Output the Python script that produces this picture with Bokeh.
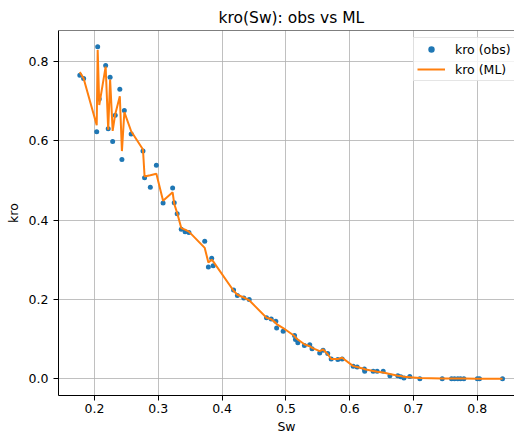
from bokeh.plotting import figure
from bokeh.models import Range1d, FixedTicker, Span
from bokeh.embed import file_html
from bokeh.resources import INLINE

sw = [0.177, 0.183, 0.2035, 0.2050, 0.2075, 0.2175, 0.2215, 0.2245, 0.2285, 0.2325,
      0.2397, 0.2430, 0.2468, 0.2575, 0.2760, 0.2785, 0.2875, 0.2970, 0.3075, 0.3225,
      0.3250, 0.3296, 0.3360, 0.3420, 0.3480, 0.3728, 0.3785, 0.3837, 0.3860, 0.4180,
      0.4240, 0.4340, 0.4425, 0.4696, 0.4770, 0.4842, 0.4855, 0.4957, 0.5135, 0.5150,
      0.5187, 0.5290, 0.5374, 0.5410, 0.5530, 0.5583, 0.5656, 0.5710, 0.5814, 0.5882,
      0.6055, 0.6117, 0.6230, 0.6235, 0.6368, 0.6430, 0.6525, 0.6630, 0.6754, 0.6800,
      0.6850, 0.6942, 0.7100, 0.7450, 0.7596, 0.7643, 0.7695, 0.7737, 0.7790, 0.8000,
      0.8034, 0.8395]

kro_obs = [0.765, 0.757, 0.623, 0.837, 0.705, 0.790, 0.630, 0.760, 0.598, 0.664,
           0.730, 0.553, 0.676, 0.617, 0.574, 0.507, 0.483, 0.538, 0.443, 0.481,
           0.444, 0.416, 0.377, 0.371, 0.369, 0.347, 0.282, 0.304, 0.285, 0.224,
           0.210, 0.204, 0.200, 0.154, 0.151, 0.145, 0.128, 0.120, 0.109, 0.099,
           0.091, 0.084, 0.086, 0.076, 0.065, 0.072, 0.064, 0.050, 0.049, 0.050,
           0.032, 0.030, 0.025, 0.019, 0.019, 0.019, 0.019, 0.008, 0.008, 0.005,
           0.002, 0.006, 0.000, 0.000, 0.000, 0.000, 0.000, 0.000, 0.000, 0.000,
           0.000, 0.000]

kro_ml = [0.773, 0.757, 0.639, 0.829, 0.690, 0.787, 0.628, 0.754, 0.625, 0.667,
          0.712, 0.574, 0.672, 0.624, 0.578, 0.510, 0.513, 0.517, 0.449, 0.470,
          0.441, 0.418, 0.380, 0.376, 0.371, 0.330, 0.293, 0.300, 0.296, 0.222,
          0.212, 0.205, 0.198, 0.154, 0.150, 0.141, 0.138, 0.128, 0.108, 0.104,
          0.099, 0.087, 0.082, 0.078, 0.070, 0.074, 0.062, 0.050, 0.050, 0.053,
          0.032, 0.030, 0.025, 0.024, 0.020, 0.018, 0.016, 0.012, 0.008, 0.007,
          0.005, 0.004, 0.002, 0.001, 0.001, 0.001, 0.001, 0.001, 0.001, 0.000,
          0.000, 0.000]

x_ticks = [0.2, 0.3, 0.4, 0.5, 0.6, 0.7, 0.8]
x_tick_labels = ["0.2", "0.3", "0.4", "0.5", "0.6", "0.7", "0.8"]
y_ticks = [0.0, 0.2, 0.4, 0.6, 0.8]
y_tick_labels = ["0.0", "0.2", "0.4", "0.6", "0.8"]

title_text = "kro(Sw): obs vs ML"
x_label = "Sw"
y_label = "kro"

FONT = "DejaVu Sans"
X0, X1 = 0.1436, 0.8583
Y0, Y1 = -0.042, 0.8779

p = figure(width=514, height=436, output_backend="svg", toolbar_location=None,
           x_range=Range1d(X0, X1), y_range=Range1d(Y0, Y1),
           min_border_left=58, min_border_right=0, min_border_top=30,
           min_border_bottom=40, title=title_text,
           x_axis_label=x_label, y_axis_label=y_label)

p.outline_line_color = None
p.background_fill_color = "white"
p.border_fill_color = "white"

p.title.text_font = FONT
p.title.text_font_size = "15.5px"
p.title.text_font_style = "normal"
p.title.text_color = "black"
p.title.align = "left"
p.title.offset = 160
p.title.vertical_align = "bottom"
p.title.standoff = 8

for ax in (p.xaxis[0], p.yaxis[0]):
    ax.axis_line_color = "black"
    ax.axis_line_width = 1
    ax.major_tick_line_color = "black"
    ax.major_tick_line_width = 1
    ax.major_tick_out = 5
    ax.major_tick_in = 0
    ax.minor_tick_out = 0
    ax.minor_tick_in = 0
    ax.major_label_text_font = FONT
    ax.major_label_text_font_size = "12.5px"
    ax.major_label_text_color = "black"
    ax.axis_label_text_font = FONT
    ax.axis_label_text_font_size = "12.5px"
    ax.axis_label_text_font_style = "normal"
    ax.axis_label_text_color = "black"

p.xaxis[0].ticker = FixedTicker(ticks=x_ticks)
p.xaxis[0].major_label_overrides = dict(zip(x_ticks, x_tick_labels))
p.yaxis[0].ticker = FixedTicker(ticks=y_ticks)
p.yaxis[0].major_label_overrides = dict(zip(y_ticks, y_tick_labels))
p.xaxis[0].major_label_standoff = 3
p.xaxis[0].axis_label_standoff = 3
p.yaxis[0].major_label_standoff = 5
p.yaxis[0].axis_label_standoff = 5

p.xgrid[0].ticker = FixedTicker(ticks=x_ticks)
p.ygrid[0].ticker = FixedTicker(ticks=y_ticks)
for g in (p.xgrid[0], p.ygrid[0]):
    g.grid_line_color = "#b0b0b0"
    g.grid_line_width = 0.8

# top spine
p.add_layout(Span(location=Y1, dimension="width", line_color="black", line_width=1))

p.scatter(sw, kro_obs, size=5, color="#1f77b4", line_color=None, legend_label="kro (obs)")
p.line(sw, kro_ml, line_width=2, color="#ff7f0e", legend_label="kro (ML)")

lg = p.legend[0]
lg.location = (355, 314)
lg.padding = 3
lg.spacing = 4
lg.margin = 0
lg.glyph_width = 28
lg.glyph_height = 16
lg.label_height = 16
lg.label_standoff = 10
lg.label_text_font = FONT
lg.label_text_font_size = "12.5px"
lg.label_text_color = "black"
lg.border_line_color = "#cccccc"
lg.border_line_width = 1
lg.background_fill_color = "white"
lg.background_fill_alpha = 0.8

open("out.html", "w").write(file_html(p, INLINE))
